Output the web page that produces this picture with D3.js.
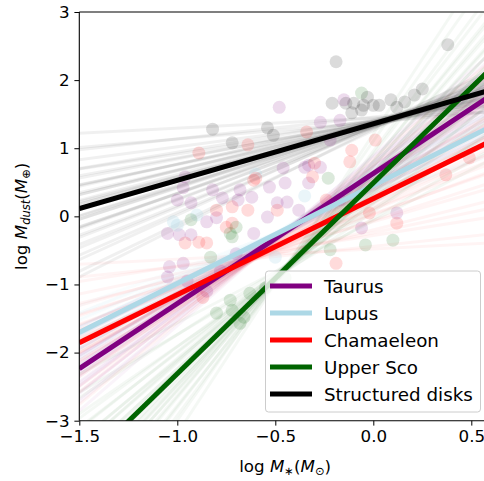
<!DOCTYPE html>
<html>
<head>
<meta charset="utf-8">
<script src="https://cdn.jsdelivr.net/npm/d3@7"></script>
<style>
  html, body { margin: 0; padding: 0; background: #fff; overflow: hidden; }
  text { font-family: "DejaVu Sans", sans-serif; }
</style>
</head>
<body>
<svg id="chart" width="484" height="481"></svg>
<script>
// groups, in legend order
const groups = ["Taurus", "Lupus", "Chamaeleon", "Upper Sco", "Structured disks"];
const colors = ["#800080", "#add8e6", "#ff0000", "#006400", "#000000"];

// best-fit lines: log Mdust = slope * log M* + intercept
const fitSlope = [1.91, 1.44, 1.41, 2.80, 0.83];
const fitIntercept = [0.63, 0.455, 0.26, 0.49, 1.36];

// posterior samples: [slope, value at pivot]
const fanPivot = [-0.45, -0.5, -0.6, -0.45, 0.1];
const fanTaurus = [[1.35,-0.21],[1.42,-0.25],[1.48,-0.19],[1.54,-0.27],[1.58,-0.22],[1.62,-0.24],[1.66,-0.20],[1.69,-0.26],[1.72,-0.23],[1.75,-0.21],[1.78,-0.25],[1.80,-0.19],[1.83,-0.24],[1.85,-0.22],[1.88,-0.26],[1.90,-0.20],[1.93,-0.23],[1.95,-0.25],[1.98,-0.21],[2.01,-0.24],[2.04,-0.19],[2.07,-0.27],[2.10,-0.22],[2.14,-0.24],[2.18,-0.20],[2.22,-0.25],[2.27,-0.22],[2.33,-0.24],[2.40,-0.21],[2.50,-0.23]];
const fanLupus = [[1.05,-0.26],[1.12,-0.30],[1.18,-0.24],[1.23,-0.28],[1.28,-0.25],[1.32,-0.29],[1.35,-0.27],[1.38,-0.24],[1.41,-0.30],[1.44,-0.26],[1.47,-0.28],[1.50,-0.25],[1.53,-0.29],[1.57,-0.27],[1.61,-0.24],[1.66,-0.28],[1.71,-0.26],[1.77,-0.29],[1.84,-0.25],[1.92,-0.27]];
const fanCha = [[0.15,-0.57],[0.30,-0.62],[0.45,-0.55],[0.60,-0.60],[0.72,-0.63],[0.82,-0.57],[0.92,-0.61],[1.00,-0.56],[1.07,-0.62],[1.13,-0.58],[1.19,-0.60],[1.24,-0.55],[1.29,-0.63],[1.33,-0.59],[1.37,-0.57],[1.41,-0.61],[1.45,-0.56],[1.49,-0.60],[1.53,-0.62],[1.57,-0.58],[1.62,-0.55],[1.67,-0.61],[1.72,-0.59],[1.78,-0.63],[1.85,-0.57],[1.92,-0.60],[2.00,-0.56],[2.10,-0.61],[2.22,-0.58],[2.40,-0.60]];
const fanUSco = [[1.50,-0.74],[1.70,-0.80],[1.85,-0.72],[1.98,-0.82],[2.10,-0.76],[2.20,-0.79],[2.28,-0.73],[2.36,-0.81],[2.43,-0.75],[2.50,-0.78],[2.56,-0.72],[2.62,-0.80],[2.68,-0.76],[2.73,-0.82],[2.78,-0.74],[2.83,-0.78],[2.88,-0.75],[2.94,-0.81],[3.00,-0.73],[3.06,-0.79],[3.13,-0.76],[3.20,-0.80],[3.28,-0.74],[3.37,-0.78],[3.47,-0.75],[3.58,-0.81],[3.72,-0.76],[3.88,-0.79],[4.10,-0.74],[4.40,-0.77]];
const fanStruct = [[0.15,1.46],[0.25,1.41],[0.32,1.49],[0.38,1.44],[0.44,1.40],[0.48,1.47],[0.52,1.43],[0.56,1.46],[0.59,1.41],[0.62,1.45],[0.65,1.48],[0.67,1.42],[0.70,1.44],[0.72,1.47],[0.74,1.40],[0.76,1.45],[0.78,1.43],[0.80,1.46],[0.82,1.42],[0.84,1.44],[0.86,1.48],[0.88,1.41],[0.90,1.45],[0.92,1.43],[0.94,1.46],[0.97,1.40],[1.00,1.44],[1.03,1.47],[1.06,1.42],[1.10,1.45],[1.14,1.41],[1.19,1.44],[1.25,1.43],[1.31,1.46],[1.38,1.40],[1.45,1.43]];
const fans = [fanTaurus, fanLupus, fanCha, fanUSco, fanStruct];
const fanOpacity = [0.045, 0.06, 0.045, 0.045, 0.06];

// disks: [log M*, log Mdust]
const ptsTaurus = [[-0.48,1.60],[-0.27,1.38],[-0.17,1.41],[-0.15,1.71],[-0.33,0.75],[-0.46,0.71],[-0.35,0.72],[-0.45,0.49],[-0.53,0.43],[-0.68,0.39],[-0.62,0.28],[-0.69,0.24],[-0.44,0.21],[-0.38,0.09],[-0.33,0.49],[-0.27,0.72],[-0.06,-0.17],[-0.17,0.24],[-0.96,0.58],[-0.97,0.42],[-1.00,0.24],[-0.93,0.20],[-0.82,0.39],[-0.77,0.27],[-0.85,-0.08],[-0.80,-0.02],[-1.05,-0.25],[-0.99,-0.27],[-0.93,-0.27],[-1.04,-0.74],[-0.97,-0.69],[-1.05,-0.89],[-0.61,-0.25],[-0.54,-0.01],[-0.49,0.20],[0.12,0.05],[-0.22,1.12],[-0.95,-0.95],[-0.85,-1.10],[-0.78,-0.80],[-0.70,-0.55]];
const ptsLupus = [[-1.00,-0.13],[-1.02,-0.08],[-0.35,0.30],[-0.90,0.02],[-0.50,-0.60],[-0.60,0.62]];
const ptsCha = [[-0.89,0.93],[-0.80,0.09],[-0.75,-0.16],[-0.96,-0.39],[-0.89,-0.38],[-0.85,-0.39],[-0.64,1.05],[-0.60,0.56],[-0.11,0.97],[-0.12,0.80],[-0.24,0.24],[-0.31,0.58],[-0.30,0.78],[-0.34,1.24],[-0.72,0.14],[-0.64,0.09],[-0.49,0.09],[-0.02,0.05],[0.01,1.12],[0.37,0.61],[0.49,0.86],[0.12,-0.10],[-0.72,-0.10],[-0.19,-0.69],[-0.87,-1.19],[-0.61,0.53]];
const ptsUSco = [[-0.23,0.56],[-0.70,-0.16],[-0.72,-0.30],[-0.04,-0.42],[-0.93,-0.05],[-0.73,-1.23],[-0.72,-1.38],[-0.80,-1.42],[-0.66,-1.48],[-0.63,-1.13],[-0.68,-1.57],[-0.83,-0.60],[-0.73,-0.25],[-0.06,1.81],[0.10,-0.35],[-0.22,-0.49],[-0.55,-1.05],[-0.45,-0.90]];
const ptsStruct = [[-0.82,1.28],[-0.54,1.30],[-0.51,1.19],[-0.72,1.08],[-0.19,2.27],[-0.21,1.66],[-0.10,1.66],[-0.05,1.63],[0.0,1.63],[-0.03,1.75],[-0.14,1.66],[-0.11,1.52],[-0.06,1.56],[0.38,2.52],[0.25,1.87],[0.21,1.78],[0.16,1.68],[0.09,1.71],[0.03,1.63],[0.12,1.60]];
const points = [ptsTaurus, ptsLupus, ptsCha, ptsUSco, ptsStruct];

const xTicks = [-1.5, -1.0, -0.5, 0.0, 0.5];
const yTicks = [-3, -2, -1, 0, 1, 2, 3];

const margin = {left: 79.3, top: 12, right: 490.9, bottom: 420.7};
const x = d3.scaleLinear().domain([-1.5, 0.6]).range([margin.left, margin.right]);
const y = d3.scaleLinear().domain([-3, 3]).range([margin.bottom, margin.top]);

const svg = d3.select("#chart");
const fmtMinus = s => s.replace("-", "\u2212");

svg.append("clipPath").attr("id", "plotclip")
  .append("rect")
  .attr("x", margin.left).attr("y", margin.top)
  .attr("width", margin.right - margin.left).attr("height", margin.bottom - margin.top);

const plot = svg.append("g").attr("clip-path", "url(#plotclip)");
const xs = x.domain();

// fan of sample lines
fans.forEach((fan, gi) => {
  plot.append("g").selectAll("line").data(fan).join("line")
    .attr("x1", x(xs[0])).attr("x2", x(xs[1]))
    .attr("y1", d => y(d[1] + d[0] * (xs[0] - fanPivot[gi])))
    .attr("y2", d => y(d[1] + d[0] * (xs[1] - fanPivot[gi])))
    .attr("stroke", colors[gi])
    .attr("stroke-opacity", fanOpacity[gi])
    .attr("stroke-width", 3);
});

// scatter
points.forEach((pts, gi) => {
  plot.append("g").selectAll("circle").data(pts).join("circle")
    .attr("cx", d => x(d[0])).attr("cy", d => y(d[1]))
    .attr("r", 6.5)
    .attr("fill", colors[gi])
    .attr("fill-opacity", gi === 1 ? 0.25 : 0.14);
});

// best fits
groups.forEach((g, gi) => {
  plot.append("line")
    .attr("x1", x(xs[0])).attr("x2", x(xs[1]))
    .attr("y1", y(fitSlope[gi] * xs[0] + fitIntercept[gi]))
    .attr("y2", y(fitSlope[gi] * xs[1] + fitIntercept[gi]))
    .attr("stroke", colors[gi])
    .attr("stroke-width", 5);
});

// axes
const xAxis = svg.append("g")
  .attr("transform", `translate(0,${margin.bottom})`)
  .call(d3.axisBottom(x).tickValues(xTicks).tickSize(4.9).tickPadding(4.9)
    .tickFormat(d => fmtMinus(d3.format(".1f")(d))));
const yAxis = svg.append("g")
  .attr("transform", `translate(${margin.left},0)`)
  .call(d3.axisLeft(y).tickValues(yTicks).tickSize(4.9).tickPadding(4.9)
    .tickFormat(d => fmtMinus(d3.format("d")(d))));
[xAxis, yAxis].forEach(a => {
  a.select(".domain").remove();
  a.selectAll("text").attr("font-size", 16.7).attr("fill", "#000")
    .style("font-family", "DejaVu Sans, sans-serif");
  a.selectAll(".tick line").attr("stroke", "#000").attr("stroke-width", 1);
});

// spines (right one falls outside the picture)
const spine = svg.append("g").attr("stroke", "#000").attr("stroke-width", 1.1).attr("fill", "none");
spine.append("line").attr("x1", margin.left).attr("x2", margin.left).attr("y1", margin.top).attr("y2", margin.bottom);
spine.append("line").attr("x1", margin.left).attr("x2", margin.right).attr("y1", margin.bottom).attr("y2", margin.bottom);
spine.append("line").attr("x1", margin.left).attr("x2", margin.right).attr("y1", margin.top).attr("y2", margin.top);

// axis labels
const xl = svg.append("text")
  .attr("x", (margin.left + margin.right) / 2).attr("y", 472)
  .attr("text-anchor", "middle").attr("font-size", 16.7);
xl.append("tspan").text("log ");
xl.append("tspan").attr("font-style", "italic").text("M");
xl.append("tspan").attr("font-size", 11.5).attr("dy", 3).text("\u2217");
xl.append("tspan").attr("dy", -3).text("(");
xl.append("tspan").attr("font-style", "italic").text("M");
xl.append("tspan").attr("font-size", 11.5).attr("dy", 3).text("\u2299");
xl.append("tspan").attr("dy", -3).text(")");

const yl = svg.append("text")
  .attr("transform", `translate(27,${(margin.top + margin.bottom) / 2}) rotate(-90)`)
  .attr("text-anchor", "middle").attr("font-size", 16.7);
yl.append("tspan").text("log ");
yl.append("tspan").attr("font-style", "italic").text("M");
yl.append("tspan").attr("font-style", "italic").attr("font-size", 11.5).attr("dy", 3).text("dust");
yl.append("tspan").attr("dy", -3).text("(");
yl.append("tspan").attr("font-style", "italic").text("M");
yl.append("tspan").attr("font-size", 11.5).attr("dy", 3).text("\u2295");
yl.append("tspan").attr("dy", -3).text(")");

// legend
const legend = svg.append("g");
legend.append("rect")
  .attr("x", 265.5).attr("y", 271).attr("width", 215).attr("height", 141)
  .attr("rx", 3).attr("fill", "#fff").attr("fill-opacity", 0.8)
  .attr("stroke", "#cccccc").attr("stroke-width", 1);
const rows = legend.selectAll("g.row").data(groups).join("g")
  .attr("transform", (d, i) => `translate(0,${286 + i * 27})`);
rows.append("line").attr("x1", 270).attr("x2", 312)
  .attr("stroke", (d, i) => colors[i]).attr("stroke-width", 5);
rows.append("text").attr("x", 324).attr("y", 6.5)
  .attr("font-size", 18.3).text(d => d);
</script>
</body>
</html>
